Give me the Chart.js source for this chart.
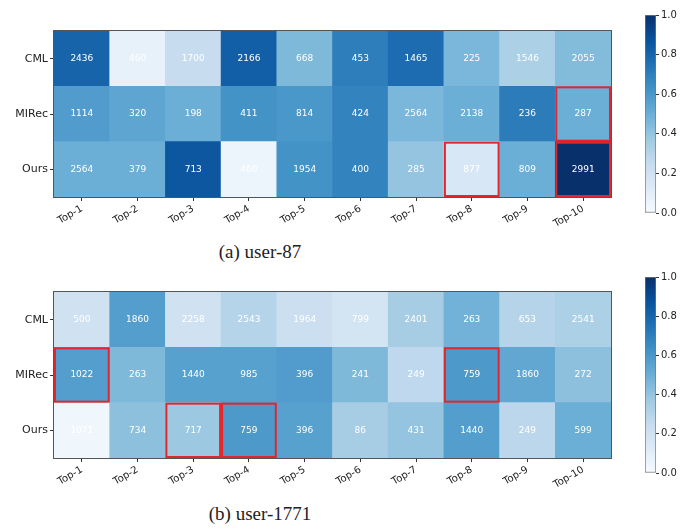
<!DOCTYPE html>
<html>
<head>
<meta charset="utf-8">
<script src="https://cdn.jsdelivr.net/npm/chart.js@4.4.1/dist/chart.umd.min.js"></script>
<style>
  body { margin: 0; background: #fff; width: 698px; height: 530px; position: relative; overflow: hidden; }
  canvas { position: absolute; }
  .cap { position: absolute; width: 520px; left: 0; text-align: center; font-family: "Liberation Serif", "DejaVu Serif", serif; font-size: 19px; color: #222; }
</style>
</head>
<body>
<canvas id="heatA" width="640" height="240" style="left:0;top:0"></canvas>
<canvas id="barA" width="78" height="240" style="left:620px;top:0"></canvas>
<div class="cap" style="top:241px">(a) user-87</div>
<canvas id="heatB" width="640" height="240" style="left:0;top:260px"></canvas>
<canvas id="barB" width="78" height="240" style="left:620px;top:260px"></canvas>
<div class="cap" style="top:503px">(b) user-1771</div>
<script>
const columns = ['Top-1', 'Top-2', 'Top-3', 'Top-4', 'Top-5', 'Top-6', 'Top-7', 'Top-8', 'Top-9', 'Top-10'];
const rowNames = ['CML', 'MIRec', 'Ours'];
const colorbarTicks = [0, 0.2, 0.4, 0.6, 0.8, 1.0];

const countsA = [
  [2436, 460, 1700, 2166, 668, 453, 1465, 225, 1546, 2055],
  [1114, 320, 198, 411, 814, 424, 2564, 2138, 236, 287],
  [2564, 379, 713, 460, 1954, 400, 285, 877, 809, 2991]
];
const shadeA = [
  [0.80, 0.08, 0.24, 0.82, 0.45, 0.70, 0.77, 0.46, 0.33, 0.44],
  [0.58, 0.54, 0.50, 0.62, 0.60, 0.68, 0.46, 0.50, 0.71, 0.50],
  [0.50, 0.50, 0.85, 0.05, 0.62, 0.68, 0.40, 0.16, 0.50, 1.00]
];
const highlightA = [[1, 9], [2, 7], [2, 9]];

// user-1771
const countsB = [
  [500, 1860, 2258, 2543, 1964, 799, 2401, 263, 653, 2541],
  [1022, 263, 1440, 985, 396, 241, 249, 759, 1860, 272],
  [1071, 734, 717, 759, 396, 86, 431, 1440, 249, 599]
];
const shadeB = [
  [0.20, 0.57, 0.20, 0.30, 0.22, 0.18, 0.35, 0.48, 0.30, 0.33],
  [0.57, 0.45, 0.56, 0.56, 0.58, 0.45, 0.27, 0.59, 0.53, 0.42],
  [0.04, 0.42, 0.38, 0.59, 0.56, 0.35, 0.40, 0.57, 0.28, 0.50]
];
const highlightB = [[1, 0], [2, 2], [2, 3], [1, 7]];

// matplotlib "Blues"
const blues = ['#f7fbff', '#deebf7', '#c6dbef', '#9ecae1', '#6baed6', '#4292c6', '#2171b5', '#08519c', '#08306b'];

function hexRgb(h) {
  return [1, 3, 5].map(i => parseInt(h.slice(i, i + 2), 16));
}
function bluesAt(t) {
  t = Math.max(0, Math.min(1, t));
  const p = t * (blues.length - 1);
  const i = Math.min(Math.floor(p), blues.length - 2);
  const f = p - i;
  const a = hexRgb(blues[i]), b = hexRgb(blues[i + 1]);
  const c = a.map((v, k) => Math.round(v + (b[k] - v) * f));
  return 'rgb(' + c.join(',') + ')';
}

const FONT = "'DejaVu Sans', sans-serif";
const AXIS = '#333';

// numbers, red boxes and the frame
const cellPlugin = {
  id: 'cells',
  afterDatasetsDraw(chart, args, opts) {
    const ctx = chart.ctx;
    const n = rowNames.length;
    ctx.save();
    ctx.font = '9px ' + FONT;
    ctx.fillStyle = '#fff';
    ctx.textAlign = 'center';
    ctx.textBaseline = 'middle';
    chart.data.datasets.forEach((ds, di) => {
      const row = n - 1 - di;
      chart.getDatasetMeta(di).data.forEach((el, ci) => {
        ctx.fillText(String(opts.counts[row][ci]), el.x, (el.y + el.base) / 2);
      });
    });
    ctx.strokeStyle = '#e3262e';
    ctx.lineWidth = 2;
    opts.highlight.forEach(([row, col]) => {
      const el = chart.getDatasetMeta(n - 1 - row).data[col];
      ctx.strokeRect(el.x - el.width / 2 + 1, el.y + 1, el.width - 2, el.base - el.y - 2);
    });
    const a = chart.chartArea;
    ctx.strokeStyle = '#555';
    ctx.lineWidth = 1;
    ctx.strokeRect(a.left - 0.5, a.top - 0.5, a.right - a.left + 1, a.bottom - a.top + 1);
    ctx.restore();
  }
};

function heatmap(id, counts, shade, highlight, top) {
  const datasets = [];
  for (let r = rowNames.length - 1; r >= 0; r--) {
    datasets.push({
      label: rowNames[r],
      data: columns.map(() => 1),
      backgroundColor: shade[r].map(bluesAt),
      borderWidth: 0,
      barPercentage: 1,
      categoryPercentage: 1
    });
  }
  new Chart(document.getElementById(id), {
    type: 'bar',
    data: { labels: columns, datasets: datasets },
    options: {
      responsive: false,
      animation: false,
      layout: { padding: { top: top, right: 29, left: 0, bottom: 0 } },
      plugins: {
        legend: { display: false },
        tooltip: { enabled: false },
        cells: { counts: counts, highlight: highlight }
      },
      scales: {
        x: {
          stacked: true,
          grid: { offset: false, drawOnChartArea: false, tickLength: 4, color: AXIS },
          border: { color: '#555' },
          ticks: { color: '#222', font: { family: FONT, size: 10 }, minRotation: 30, maxRotation: 30, padding: 2 },
          afterFit: s => { s.height = 240 - top - 166; }
        },
        y: {
          stacked: true,
          min: 0,
          max: 3,
          grid: { drawOnChartArea: false, tickLength: 4, color: AXIS },
          border: { color: '#555' },
          afterBuildTicks: s => { s.ticks = [0.5, 1.5, 2.5].map(v => ({ value: v })); },
          ticks: {
            color: '#222',
            font: { family: FONT, size: 11 },
            padding: 2,
            callback: (v, i) => rowNames[rowNames.length - 1 - i]
          },
          afterFit: s => { s.width = 54; }
        }
      }
    },
    plugins: [cellPlugin]
  });
}

function colorbar(id, top, bottom) {
  new Chart(document.getElementById(id), {
    type: 'bar',
    data: {
      labels: [''],
      datasets: [{
        data: [[0, 1]],
        barPercentage: 1,
        categoryPercentage: 1,
        borderWidth: 1,
        borderColor: '#777',
        borderSkipped: false,
        backgroundColor: c => {
          const a = c.chart.chartArea;
          if (!a) return blues[4];
          const g = c.chart.ctx.createLinearGradient(0, a.bottom, 0, a.top);
          blues.forEach((col, i) => g.addColorStop(i / (blues.length - 1), col));
          return g;
        }
      }]
    },
    options: {
      responsive: false,
      animation: false,
      layout: { padding: { top: top, bottom: bottom, left: 25, right: 0 } },
      plugins: { legend: { display: false }, tooltip: { enabled: false } },
      scales: {
        x: { display: false },
        y: {
          position: 'right',
          min: 0,
          max: 1,
          afterBuildTicks: s => { s.ticks = colorbarTicks.map(v => ({ value: v })); },
          grid: { drawOnChartArea: false, tickLength: 3, color: AXIS },
          border: { display: false },
          ticks: { color: '#222', font: { family: FONT, size: 10 }, padding: 2, callback: v => v.toFixed(1) },
          afterFit: s => { s.width = 42; }
        }
      }
    }
  });
}

heatmap('heatA', countsA, shadeA, highlightA, 31);
colorbar('barA', 15, 27);
heatmap('heatB', countsB, shadeB, highlightB, 32);
colorbar('barB', 17, 27);
</script>
</body>
</html>
